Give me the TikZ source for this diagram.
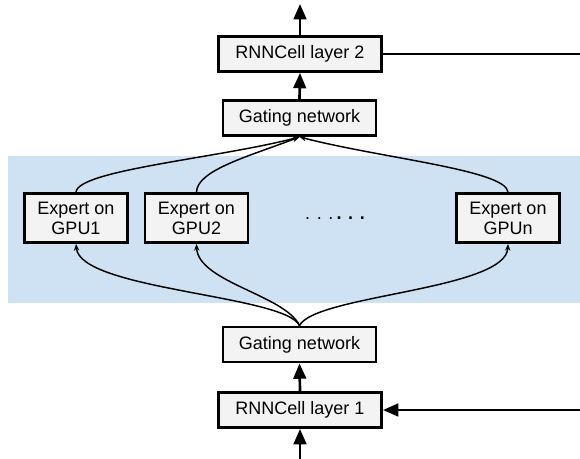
\documentclass[tikz,border=0pt]{standalone}
\usepackage{fontspec}
\setmainfont{Liberation Sans}
\usetikzlibrary{arrows.meta}
\definecolor{bandblue}{HTML}{CFE2F3}
\definecolor{boxgray}{HTML}{F3F3F3}
\begin{document}
\begin{tikzpicture}[x=0.75pt, y=-0.75pt, font=\fontsize{13.5}{15}\selectfont,
  block/.style={draw, line width=1.9pt, fill=boxgray, inner sep=0pt, minimum height=26.5pt},
  layer/.style={block, minimum width=122.5pt},
  gate/.style={block, minimum width=114.5pt},
  expert/.style={block, minimum width=77.5pt, minimum height=37pt, align=center},
  flow/.style={line width=2pt, -{Triangle[length=11.5pt,width=9.5pt]}},
  route/.style={line width=1.1pt, -{Stealth[length=5pt,width=4pt]}}]
\useasboundingbox (0,0) rectangle (580,459);

% Expert band
\fill[bandblue] (8,156) rectangle (580,303);

% Layers and gates
\node[layer] (rnn2) at (300,54) {RNNCell layer 2};
\node[gate] (gate2) at (299.5,118) {Gating network};
\node[gate] (gate1) at (299.5,344.5) {Gating network};
\node[layer] (rnn1) at (300,410) {RNNCell layer 1};

% Experts
\node[expert] (exp1) at (76,218) {Expert on\\GPU1};
\node[expert] (exp2) at (196.5,218) {Expert on\\GPU2};
\node[expert] (expn) at (508,218) {Expert on\\GPUn};
\node (dots) at (335,218) {. . .\,\textbf{. . .}};

% Free ends
\coordinate (out) at (300,4);
\coordinate (in) at (300,459);
\coordinate (r2) at (580,54);
\coordinate (r1) at (580,410);

% Main flow
\draw[flow] (in) -- (rnn1.south);
\draw[flow] (rnn1.north) -- (gate1.south);
\draw[flow] (gate2.north) -- (rnn2.south);
\draw[flow] (rnn2.north) -- (out);
\draw[flow] (r1) -- (rnn1.east);
\draw[line width=1.6pt] (rnn2.east) -- (r2);

% Dispatch to experts
\draw[route] (gate1.north) .. controls (285,295) and (80,290) .. (exp1.south);
\draw[route] (gate1.north) .. controls (285,295) and (198,282) .. (exp2.south);
\draw[route] (gate1.north) .. controls (315,295) and (506,290) .. (expn.south);

% Combine outputs
\draw[route] (exp1.north) .. controls (78,170) and (220,158) .. (gate2.south);
\draw[route] (exp2.north) .. controls (197,170) and (250,156) .. (gate2.south);
\draw[route] (expn.north) .. controls (506,170) and (380,158) .. (gate2.south);

\end{tikzpicture}
\end{document}
